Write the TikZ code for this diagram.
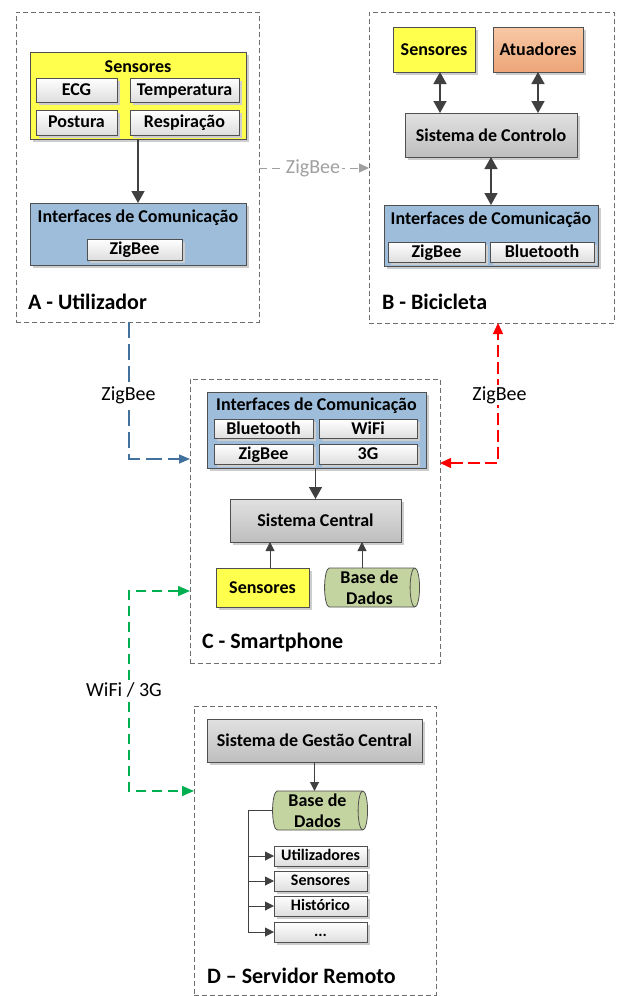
\documentclass[tikz,border=0pt]{standalone}
\usepackage{fontspec}
\setmainfont{Carlito}
\usetikzlibrary{arrows.meta,shapes.geometric,shadows,calc}
\definecolor{grpgray}{RGB}{110,110,110}
\definecolor{boxline}{RGB}{80,80,80}
\definecolor{yel}{RGB}{255,255,77}
\definecolor{ifblue}{RGB}{157,189,219}
\definecolor{subgray}{RGB}{222,222,222}
\definecolor{systop}{RGB}{225,225,225}
\definecolor{sysbot}{RGB}{190,190,190}
\definecolor{orgtop}{RGB}{248,200,165}
\definecolor{orgbot}{RGB}{236,165,120}
\definecolor{cylgreen}{RGB}{196,212,160}
\definecolor{arrgray}{RGB}{64,64,64}
\definecolor{lblue}{RGB}{65,113,156}
\definecolor{lgreen}{RGB}{0,176,80}
\definecolor{lgray}{RGB}{160,160,160}
\definecolor{shadowgray}{RGB}{205,205,205}
\begin{document}
\begin{tikzpicture}[x=1pt,y=-1pt,
  every node/.style={inner sep=0pt,outer sep=0pt},
  shad/.style={drop shadow={shadow xshift=2.5pt,shadow yshift=-2.5pt,fill=shadowgray,opacity=1}},
  bt/.style={font=\fontsize{18}{21}\selectfont\bfseries},
  grp/.style={draw=grpgray,line width=0.8pt,dash pattern=on 5pt off 3pt},
  cont/.style={draw=boxline,line width=0.8pt,shad},
  ybox/.style={cont,fill=yel,bt},
  ifbox/.style={cont,fill=ifblue},
  sub/.style={cont,top color=white,bottom color=subgray,bt,text height=13.5pt,text depth=3pt},
  subs/.style={sub,font=\fontsize{16}{18}\selectfont\bfseries,text height=12pt,text depth=2.5pt},
  sys/.style={cont,top color=systop,bottom color=sysbot,bt},
  obox/.style={cont,top color=orgtop,bottom color=orgbot,bt},
  cyl/.style={cylinder,shape border rotate=0,aspect=0.28,draw=boxline,line width=0.8pt,
    cylinder uses custom fill,cylinder body fill=cylgreen,cylinder end fill=cylgreen,
    bt,align=center,minimum width=39pt,minimum height=95pt},
  big/.style={font=\fontsize{22}{24}\selectfont\bfseries,anchor=west},
  lab/.style={font=\fontsize{20}{22}\selectfont,fill=white,inner sep=1.5pt},
  arr/.style={draw=arrgray,line width=1.5pt,-{Triangle[length=12pt,width=13pt]}},
  darr/.style={draw=arrgray,line width=1.5pt,{Triangle[length=12pt,width=13pt]}-{Triangle[length=12pt,width=13pt]}},
  tarr/.style={draw=arrgray,line width=1pt,-{Triangle[length=9pt,width=9pt]}},
  tline/.style={draw=arrgray,line width=1pt}
]
\useasboundingbox (0,0) rectangle (616,996);

% ---------- group boxes
\node[grp,minimum width=243pt,minimum height=310pt] (A) at (137.5,167) {};
\node[grp,minimum width=245pt,minimum height=311pt] (B) at (491.5,167.5) {};
\node[grp,minimum width=250pt,minimum height=284pt] (C) at (315,521) {};
\node[grp,minimum width=242pt,minimum height=289pt] (D) at (315,850.5) {};

% ---------- A
\node[ybox,minimum width=216pt,minimum height=87pt] (sensA) at (138,95.5) {};
\node[bt] (sensAt) at (138,67) {Sensores};
\node[sub,minimum width=81pt,minimum height=24pt] (ecg) at (76.5,90) {ECG};
\node[sub,minimum width=109pt,minimum height=24pt] (temp) at (184.5,90) {Temperatura};
\node[sub,minimum width=81pt,minimum height=25pt] (post) at (76.5,122.5) {Postura};
\node[sub,minimum width=109pt,minimum height=25pt] (resp) at (184.5,122.5) {Respiração};
\node[ifbox,minimum width=216pt,minimum height=62pt] (ifA) at (138,234) {};
\node[bt] (ifAt) at (138,218) {Interfaces de Comunicação};
\node[sub,minimum width=95pt,minimum height=21pt] (zbA) at (134.5,249.5) {ZigBee};
\node[big] (tA) at (28,302) {A - Utilizador};
\draw[arr] (sensA.south) -- (ifA.north);

% ---------- B
\node[ybox,minimum width=82pt,minimum height=45pt] (sensB) at (434,49.5) {Sensores};
\node[obox,minimum width=90pt,minimum height=45pt] (atu) at (538,49.5) {Atuadores};
\node[sys,minimum width=172pt,minimum height=44pt] (ctrl) at (491,135) {Sistema de Controlo};
\node[ifbox,minimum width=214pt,minimum height=61pt] (ifB) at (491,235.5) {};
\node[bt] (ifBt) at (491,220) {Interfaces de Comunicação};
\node[sub,minimum width=97pt,minimum height=20pt] (zbB) at (436.5,252) {ZigBee};
\node[sub,minimum width=104pt,minimum height=20pt] (btB) at (542,252) {Bluetooth};
\node[big] (tB) at (382,302) {B - Bicicleta};
\coordinate (xs) at (440,0);
\draw[darr] (sensB.south -| xs) -- (ctrl.north -| xs);
\draw[darr] (atu.south) -- (atu.south |- ctrl.north);
\draw[darr] (ctrl.south) -- (ctrl.south |- ifB.north);

% ---------- C
\node[ifbox,minimum width=219pt,minimum height=76pt] (ifC) at (316.5,430) {};
\node[bt] (ifCt) at (316.5,406) {Interfaces de Comunicação};
\node[sub,minimum width=99pt,minimum height=19pt] (btC) at (263.5,429) {Bluetooth};
\node[sub,minimum width=98pt,minimum height=19pt] (wfC) at (368,429) {WiFi};
\node[sub,minimum width=99pt,minimum height=20pt] (zbC) at (263.5,454) {ZigBee};
\node[sub,minimum width=98pt,minimum height=20pt] (g3C) at (368,454) {3G};
\node[sys,minimum width=171pt,minimum height=43pt] (sc) at (315.5,520.5) {Sistema Central};
\node[ybox,minimum width=93pt,minimum height=39pt] (sensC) at (262.5,587.5) {Sensores};
\node[cyl] (bdC) at (369.5,587.5) {Base de\\Dados};
\node[big] (tC) at (202,643) {C - Smartphone};
\draw[arr] (ifC.south -| sc.north) -- (sc.north);
\coordinate (xsc) at (270,0);
\coordinate (xbc) at (362,0);
\draw[tarr] (sensC.north -| xsc) -- (sc.south -| xsc);
\draw[tarr] (bdC.north -| xbc) -- (sc.south -| xbc);

% ---------- D
\node[sys,minimum width=215pt,minimum height=43pt] (gest) at (314.5,740.5) {Sistema de Gestão Central};
\node[cyl] (bdD) at (317.5,810.5) {Base de\\Dados};
\node[subs,minimum width=93pt,minimum height=20pt] (l1) at (320.5,856) {Utilizadores};
\node[subs,minimum width=93pt,minimum height=20pt] (l2) at (320.5,881) {Sensores};
\node[subs,minimum width=93pt,minimum height=20pt] (l3) at (320.5,906) {Histórico};
\node[subs,minimum width=93pt,minimum height=20pt] (l4) at (320.5,932) {...};
\node[big] (tD) at (207,976) {D – Servidor Remoto};
\draw[tarr] (gest.south) -- (gest.south |- bdD.north);
\coordinate (tx) at (248,0);
\draw[tline] (bdD.west) -| (l4.west -| tx);
\draw[tarr] (l1.west -| tx) -- (l1.west);
\draw[tarr] (l2.west -| tx) -- (l2.west);
\draw[tarr] (l3.west -| tx) -- (l3.west);
\draw[tarr] (l4.west -| tx) -- (l4.west);

% ---------- connectors
\coordinate (gy) at (0,168);
\draw[draw=lgray,line width=1pt,dash pattern=on 8pt off 5pt,-{Triangle[length=10pt,width=9pt]}] (A.east |- gy) -- (B.west |- gy);
\node[lab,text=lgray] (lzg) at (313,168) {ZigBee};

\coordinate (bx) at (129,0);
\coordinate (by) at (0,459);
\draw[draw=lblue,line width=1.5pt,dash pattern=on 16pt off 6pt,-{Triangle[length=11pt,width=9pt]}] (A.south -| bx) |- (C.west |- by);
\node[lab] (lzb) at (128.5,395) {ZigBee};

\coordinate (rx) at (498,0);
\coordinate (ry) at (0,463);
\draw[draw=red,line width=1.5pt,dash pattern=on 12pt off 5pt,{Triangle[length=11pt,width=10pt]}-{Triangle[length=11pt,width=10pt]}] (C.east |- ry) -| (B.south -| rx);
\node[lab] (lzr) at (499.5,395) {ZigBee};

\coordinate (gx) at (129,0);
\coordinate (g1) at (0,591);
\coordinate (g2) at (0,791);
\draw[draw=lgreen,line width=1.5pt,dash pattern=on 10pt off 6pt,{Triangle[length=12pt,width=10pt]}-{Triangle[length=12pt,width=10pt]}] (C.west |- g1) -| (gx |- g2) -- (D.west |- g2);
\node[lab] (lwf) at (124,690) {WiFi / 3G};
\end{tikzpicture}
\end{document}
